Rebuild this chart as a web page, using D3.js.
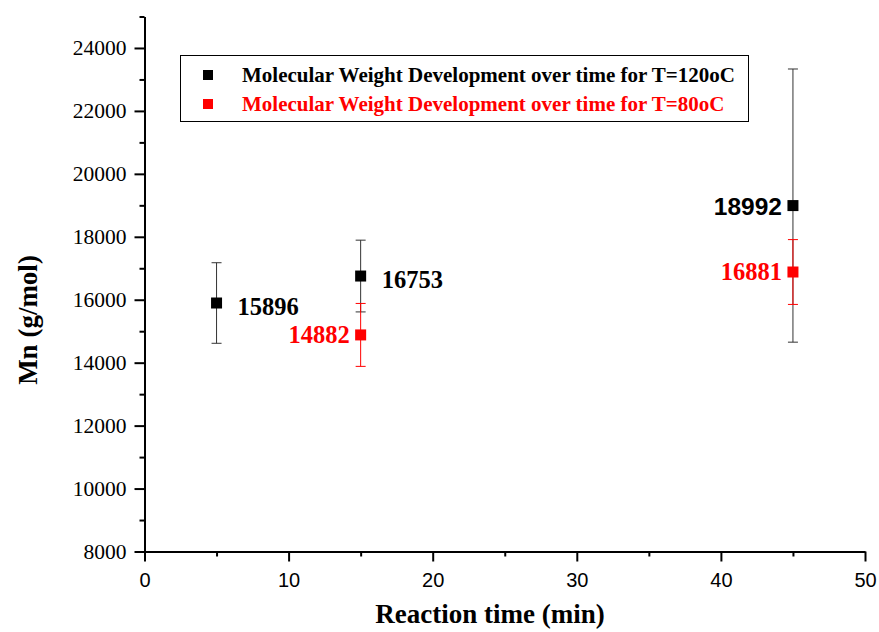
<!DOCTYPE html>
<html>
<head>
<meta charset="utf-8">
<script src="https://cdn.jsdelivr.net/npm/d3@7"></script>
<style>
  body { margin: 0; background: #fff; }
  svg { display: block; }
</style>
</head>
<body>
<script>
// data
const times120 = [5, 15, 45];
const mn120 = [15896, 16753, 18992];
const err120 = [1280, 1140, 4340];

const times80 = [15, 45];
const mn80 = [14882, 16881];
const err80 = [1000, 1030];

const xMajor = [0, 10, 20, 30, 40, 50];
const xMinor = [5, 15, 25, 35, 45];
const yMajor = [8000, 10000, 12000, 14000, 16000, 18000, 20000, 22000, 24000];
const yMinor = [9000, 11000, 13000, 15000, 17000, 19000, 21000, 23000, 25000];

const legendLabels = [
  "Molecular Weight Development over time for T=120oC",
  "Molecular Weight Development over time for T=80oC"
];

const width = 879, height = 632;
const x = d3.scaleLinear().domain([0, 50]).range([144.5, 865]);
const y = d3.scaleLinear().domain([8000, 25000]).range([551.5, 16.5]);

const svg = d3.select("body").append("svg")
    .attr("width", width)
    .attr("height", height);

// axes
const xAxis = svg.append("g")
    .attr("transform", `translate(0,${y(8000)})`)
    .call(d3.axisBottom(x).tickValues(xMajor).tickSize(10).tickPadding(11).tickSizeOuter(0));
svg.append("g")
    .attr("transform", `translate(0,${y(8000)})`)
    .call(d3.axisBottom(x).tickValues(xMinor).tickSize(5).tickFormat("").tickSizeOuter(0))
    .select(".domain").remove();

const yAxis = svg.append("g")
    .attr("transform", `translate(${x(0)},0)`)
    .call(d3.axisLeft(y).tickValues(yMajor).tickFormat(d3.format("d"))
      .tickSize(10).tickPadding(8).tickSizeOuter(0));
svg.append("g")
    .attr("transform", `translate(${x(0)},0)`)
    .call(d3.axisLeft(y).tickValues(yMinor).tickSize(5).tickFormat("").tickSizeOuter(0))
    .select(".domain").remove();

svg.selectAll(".domain, .tick line")
    .attr("stroke", "#000")
    .attr("stroke-width", 2);

xAxis.selectAll(".tick text")
    .attr("font-family", "'Liberation Sans', Arial, sans-serif")
    .attr("font-size", 20)
    .attr("fill", "#000");
yAxis.selectAll(".tick text")
    .attr("font-family", "'Liberation Serif', 'Times New Roman', serif")
    .attr("font-size", 21.5)
    .attr("fill", "#000");

// axis titles
svg.append("text")
    .attr("x", 490)
    .attr("y", 623)
    .attr("text-anchor", "middle")
    .attr("font-family", "'Liberation Serif', 'Times New Roman', serif")
    .attr("font-weight", "bold")
    .attr("font-size", 27)
    .text("Reaction time (min)");

svg.append("text")
    .attr("transform", "translate(37,320) rotate(-90)")
    .attr("text-anchor", "middle")
    .attr("font-family", "'Liberation Serif', 'Times New Roman', serif")
    .attr("font-weight", "bold")
    .attr("font-size", 27)
    .text("Mn (g/mol)");

// series drawing
function drawSeries(times, vals, errs, color, barColor) {
  const g = svg.append("g");
  const pts = times.map((t, i) => ({t, v: vals[i], e: errs[i], i}));
  const bars = g.selectAll("g.bar").data(pts).join("g").attr("class", "bar");
  bars.append("line")
      .attr("x1", d => x(d.t)).attr("x2", d => x(d.t))
      .attr("y1", d => y(d.v + d.e)).attr("y2", d => y(d.v - d.e))
      .attr("stroke", barColor).attr("stroke-width", 1);
  bars.append("line")
      .attr("x1", d => x(d.t) - 5).attr("x2", d => x(d.t) + 5)
      .attr("y1", d => y(d.v + d.e)).attr("y2", d => y(d.v + d.e))
      .attr("stroke", barColor).attr("stroke-width", 1);
  bars.append("line")
      .attr("x1", d => x(d.t) - 5).attr("x2", d => x(d.t) + 5)
      .attr("y1", d => y(d.v - d.e)).attr("y2", d => y(d.v - d.e))
      .attr("stroke", barColor).attr("stroke-width", 1);
  g.selectAll("rect").data(pts).join("rect")
      .attr("x", d => x(d.t) - 5.5)
      .attr("y", d => y(d.v) - 5.5)
      .attr("width", 11).attr("height", 11)
      .attr("fill", color);
  return pts;
}

const black = drawSeries(times120, mn120, err120, "#000", "#333");
const red = drawSeries(times80, mn80, err80, "#f00", "#f00");

// point labels
const serif = "'Liberation Serif', 'Times New Roman', serif";
const sans = "'Liberation Sans', Arial, sans-serif";
svg.append("g").selectAll("text").data(black).join("text")
    .attr("x", d => d.i < 2 ? x(d.t) + 21 : x(d.t) - 11)
    .attr("y", d => d.i < 2 ? y(d.v) + 12 : y(d.v) + 9)
    .attr("text-anchor", d => d.i < 2 ? "start" : "end")
    .attr("font-family", d => d.i < 2 ? serif : sans)
    .attr("font-weight", "bold")
    .attr("font-size", 24.5)
    .attr("fill", "#000")
    .text(d => d.v);

svg.append("g").selectAll("text").data(red).join("text")
    .attr("x", d => x(d.t) - 11)
    .attr("y", d => y(d.v) + 8)
    .attr("text-anchor", "end")
    .attr("font-family", serif)
    .attr("font-weight", "bold")
    .attr("font-size", 24.5)
    .attr("fill", "#f00")
    .text(d => d.v);

// legend
const legend = svg.append("g");
legend.append("rect")
    .attr("x", 180.5).attr("y", 55.5)
    .attr("width", 568).attr("height", 66)
    .attr("fill", "#fff")
    .attr("stroke", "#000")
    .attr("stroke-width", 1);
const legColors = ["#000", "#f00"];
legendLabels.forEach((lab, i) => {
  legend.append("rect")
      .attr("x", 203).attr("y", 70 + i * 29)
      .attr("width", 10).attr("height", 10)
      .attr("fill", legColors[i]);
  legend.append("text")
      .attr("x", 242).attr("y", 82 + i * 29)
      .attr("font-family", serif)
      .attr("font-weight", "bold")
      .attr("font-size", 21)
      .attr("fill", legColors[i])
      .text(lab);
});
</script>
</body>
</html>
